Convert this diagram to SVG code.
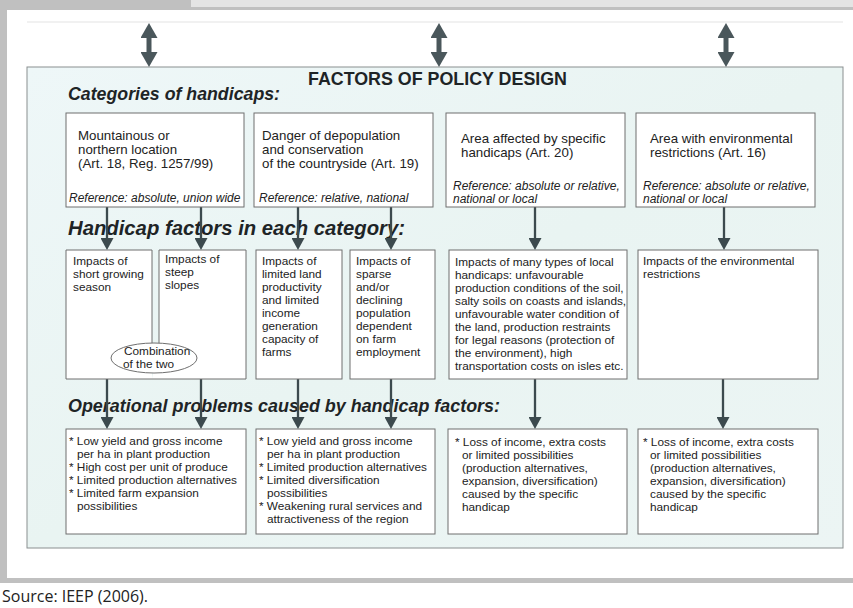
<svg xmlns="http://www.w3.org/2000/svg" width="853" height="608" viewBox="0 0 853 608">
<style>
  .box{fill:#ffffff;stroke:#6f6f6f;stroke-width:1}
  .t{font-family:"Liberation Sans",Arial,sans-serif;font-size:13.3px;fill:#222}
  .s{font-family:"Liberation Sans",Arial,sans-serif;font-size:11.8px;fill:#222}
  .ref{font-family:"Liberation Sans",Arial,sans-serif;font-size:12px;font-style:italic;fill:#222}
  .h{font-family:"Liberation Sans",Arial,sans-serif;font-weight:bold;font-style:italic;fill:#1e2426}
  .title{font-family:"Liberation Sans",Arial,sans-serif;font-weight:bold;font-size:17.5px;fill:#1e2426}
  .conn{stroke:#3c4a4e;stroke-width:2.3;fill:none;marker-end:url(#ah)}
  .dbl{stroke:#4a575b;stroke-width:5;fill:none;marker-start:url(#dh);marker-end:url(#dh)}
</style>
<defs>
  <marker id="ah" viewBox="0 0 12 13" refX="6" refY="6.5" markerWidth="12" markerHeight="13" markerUnits="userSpaceOnUse" orient="auto">
    <path d="M0,0 L12,6.5 L0,13 z" fill="#3c4a4e"/>
  </marker>
  <marker id="dh" viewBox="0 0 15 17" refX="8" refY="8.5" markerWidth="15" markerHeight="17" markerUnits="userSpaceOnUse" orient="auto-start-reverse">
    <path d="M0,0 L15,8.5 L0,17 z" fill="#4a575b"/>
  </marker>
  <linearGradient id="pg" x1="0" y1="0" x2="1" y2="1">
    <stop offset="0" stop-color="#eef7f8"/>
    <stop offset="0.5" stop-color="#e9f4f2"/>
    <stop offset="1" stop-color="#ecf5f4"/>
  </linearGradient>
</defs>

<!-- page frame -->
<rect x="0" y="0" width="853" height="608" fill="#ffffff"/>
<rect x="0" y="0" width="853" height="10" fill="#c0c0c0"/>
<rect x="191" y="0" width="662" height="7" fill="#e4e4e4"/>
<rect x="0" y="0" width="7" height="583" fill="#c0c0c0"/>
<rect x="0" y="578" width="853" height="5" fill="#c0c0c0"/>
<line x1="27" y1="22" x2="843" y2="22" stroke="#ececec" stroke-width="1.5"/>

<!-- panel -->
<g id="panel">
  <rect x="27" y="67" width="816" height="481" fill="url(#pg)" stroke="#8a8f90" stroke-width="1"/>
  <text class="title" x="308" y="85" textLength="259" lengthAdjust="spacingAndGlyphs">FACTORS OF POLICY DESIGN</text>
  <text class="h" x="68" y="100" font-size="18" textLength="212" lengthAdjust="spacingAndGlyphs">Categories of handicaps:</text>
  <text class="h" x="68" y="235" font-size="20" textLength="337" lengthAdjust="spacingAndGlyphs">Handicap factors in each category:</text>
  <text class="h" x="68" y="412" font-size="18" textLength="432" lengthAdjust="spacingAndGlyphs">Operational problems caused by handicap factors:</text>
</g>

<!-- connectors -->
<g id="connectors">
  <line class="dbl" x1="149" y1="30" x2="149" y2="60"/>
  <line class="dbl" x1="439" y1="30" x2="439" y2="60"/>
  <line class="dbl" x1="726" y1="30" x2="726" y2="60"/>

  <line class="conn" x1="107" y1="207" x2="107" y2="244"/>
  <line class="conn" x1="201" y1="207" x2="201" y2="244"/>
  <line class="conn" x1="298" y1="207" x2="298" y2="244"/>
  <line class="conn" x1="391" y1="207" x2="391" y2="244"/>
  <line class="conn" x1="535" y1="207" x2="535" y2="244"/>
  <line class="conn" x1="724" y1="207" x2="724" y2="244"/>

  <line class="conn" x1="107" y1="379" x2="107" y2="423"/>
  <line class="conn" x1="201" y1="379" x2="201" y2="423"/>
  <line class="conn" x1="298" y1="379" x2="298" y2="423"/>
  <line class="conn" x1="391" y1="379" x2="391" y2="423"/>
  <line class="conn" x1="535" y1="379" x2="535" y2="423"/>
  <line class="conn" x1="723" y1="379" x2="723" y2="423"/>
</g>

<!-- row 1: categories -->
<g id="cat-mountain">
  <rect class="box" x="66" y="113" width="178" height="94"/>
  <text class="t" x="78" y="140">Mountainous or</text>
  <text class="t" x="78" y="154">northern location</text>
  <text class="t" x="78" y="168">(Art. 18, Reg. 1257/99)</text>
  <text class="ref" x="69" y="202">Reference: absolute, union wide</text>
</g>
<g id="cat-depopulation">
  <rect class="box" x="254" y="113" width="179" height="94"/>
  <text class="t" x="262" y="140">Danger of depopulation</text>
  <text class="t" x="262" y="154">and conservation</text>
  <text class="t" x="262" y="168">of the countryside (Art. 19)</text>
  <text class="ref" x="259" y="202">Reference: relative, national</text>
</g>
<g id="cat-specific">
  <rect class="box" x="446" y="113" width="179" height="94"/>
  <text class="t" x="461" y="143">Area affected by specific</text>
  <text class="t" x="461" y="157">handicaps (Art. 20)</text>
  <text class="ref" x="453" y="190">Reference: absolute or relative,</text>
  <text class="ref" x="453" y="203">national or local</text>
</g>
<g id="cat-environment">
  <rect class="box" x="636" y="113" width="179" height="94"/>
  <text class="t" x="650" y="143">Area with environmental</text>
  <text class="t" x="650" y="157">restrictions (Art. 16)</text>
  <text class="ref" x="643" y="190">Reference: absolute or relative,</text>
  <text class="ref" x="643" y="203">national or local</text>
</g>

<!-- row 2: handicap factors -->
<g id="fac-short-season">
  <path class="box" d="M152,344 V250 H66 V379 H152"/>
  <text class="s" x="73" y="265">Impacts of</text>
  <text class="s" x="73" y="278">short growing</text>
  <text class="s" x="73" y="291">season</text>
</g>
<g id="fac-steep-slopes">
  <path class="box" d="M159,344 V250 H246 V379 H152"/>
  <text class="s" x="165" y="263">Impacts of</text>
  <text class="s" x="165" y="276">steep</text>
  <text class="s" x="165" y="289">slopes</text>
</g>
<g id="combination">
  <ellipse cx="154" cy="358" rx="43" ry="15" fill="#ffffff" stroke="#6f6f6f" stroke-width="1"/>
  <text class="s" x="124" y="355">Combination</text>
  <text class="s" x="123" y="368">of the two</text>
</g>
<g id="fac-land">
  <rect class="box" x="256" y="250" width="86" height="129"/>
  <text class="s" x="262" y="265">Impacts of</text>
  <text class="s" x="262" y="278">limited land</text>
  <text class="s" x="262" y="291">productivity</text>
  <text class="s" x="262" y="304">and limited</text>
  <text class="s" x="262" y="317">income</text>
  <text class="s" x="262" y="330">generation</text>
  <text class="s" x="262" y="343">capacity of</text>
  <text class="s" x="262" y="356">farms</text>
</g>
<g id="fac-population">
  <rect class="box" x="350" y="250" width="85" height="129"/>
  <text class="s" x="356" y="265">Impacts of</text>
  <text class="s" x="356" y="278">sparse</text>
  <text class="s" x="356" y="291">and/or</text>
  <text class="s" x="356" y="304">declining</text>
  <text class="s" x="356" y="317">population</text>
  <text class="s" x="356" y="330">dependent</text>
  <text class="s" x="356" y="343">on farm</text>
  <text class="s" x="356" y="356">employment</text>
</g>
<g id="fac-local">
  <rect class="box" x="449" y="250" width="178" height="129"/>
  <text class="s" x="455" y="266">Impacts of many types of local</text>
  <text class="s" x="455" y="279">handicaps: unfavourable</text>
  <text class="s" x="455" y="292">production conditions of the soil,</text>
  <text class="s" x="455" y="305">salty soils on coasts and islands,</text>
  <text class="s" x="455" y="318">unfavourable water condition of</text>
  <text class="s" x="455" y="331">the land, production restraints</text>
  <text class="s" x="455" y="344">for legal reasons (protection of</text>
  <text class="s" x="455" y="357">the environment), high</text>
  <text class="s" x="455" y="370">transportation costs on isles etc.</text>
</g>
<g id="fac-env">
  <rect class="box" x="638" y="250" width="180" height="129"/>
  <text class="s" x="643" y="265">Impacts of the environmental</text>
  <text class="s" x="643" y="278">restrictions</text>
</g>

<!-- row 3: operational problems -->
<g id="op-mountain">
  <rect class="box" x="66" y="429" width="180" height="105"/>
  <text class="s" x="69" y="445">* Low yield and gross income</text>
  <text class="s" x="77" y="458">per ha in plant production</text>
  <text class="s" x="69" y="471">* High cost per unit of produce</text>
  <text class="s" x="69" y="484">* Limited production alternatives</text>
  <text class="s" x="69" y="497">* Limited farm expansion</text>
  <text class="s" x="77" y="510">possibilities</text>
</g>
<g id="op-depopulation">
  <rect class="box" x="256" y="429" width="179" height="105"/>
  <text class="s" x="259" y="445">* Low yield and gross income</text>
  <text class="s" x="267" y="458">per ha in plant production</text>
  <text class="s" x="259" y="471">* Limited production alternatives</text>
  <text class="s" x="259" y="484">* Limited diversification</text>
  <text class="s" x="267" y="497">possibilities</text>
  <text class="s" x="259" y="510">* Weakening rural services and</text>
  <text class="s" x="267" y="523">attractiveness of the region</text>
</g>
<g id="op-specific">
  <rect class="box" x="448" y="429" width="179" height="105"/>
  <text class="s" x="455" y="446">* Loss of income, extra costs</text>
  <text class="s" x="462" y="459">or limited possibilities</text>
  <text class="s" x="462" y="472">(production alternatives,</text>
  <text class="s" x="462" y="485">expansion, diversification)</text>
  <text class="s" x="462" y="498">caused by the specific</text>
  <text class="s" x="462" y="511">handicap</text>
</g>
<g id="op-env">
  <rect class="box" x="638" y="429" width="180" height="105"/>
  <text class="s" x="643" y="446">* Loss of income, extra costs</text>
  <text class="s" x="650" y="459">or limited possibilities</text>
  <text class="s" x="650" y="472">(production alternatives,</text>
  <text class="s" x="650" y="485">expansion, diversification)</text>
  <text class="s" x="650" y="498">caused by the specific</text>
  <text class="s" x="650" y="511">handicap</text>
</g>

<text x="2" y="602" font-family="'Open Sans','Liberation Sans',Arial,sans-serif" font-size="16" fill="#222" textLength="146" lengthAdjust="spacingAndGlyphs">Source: IEEP (2006).</text>
</svg>
